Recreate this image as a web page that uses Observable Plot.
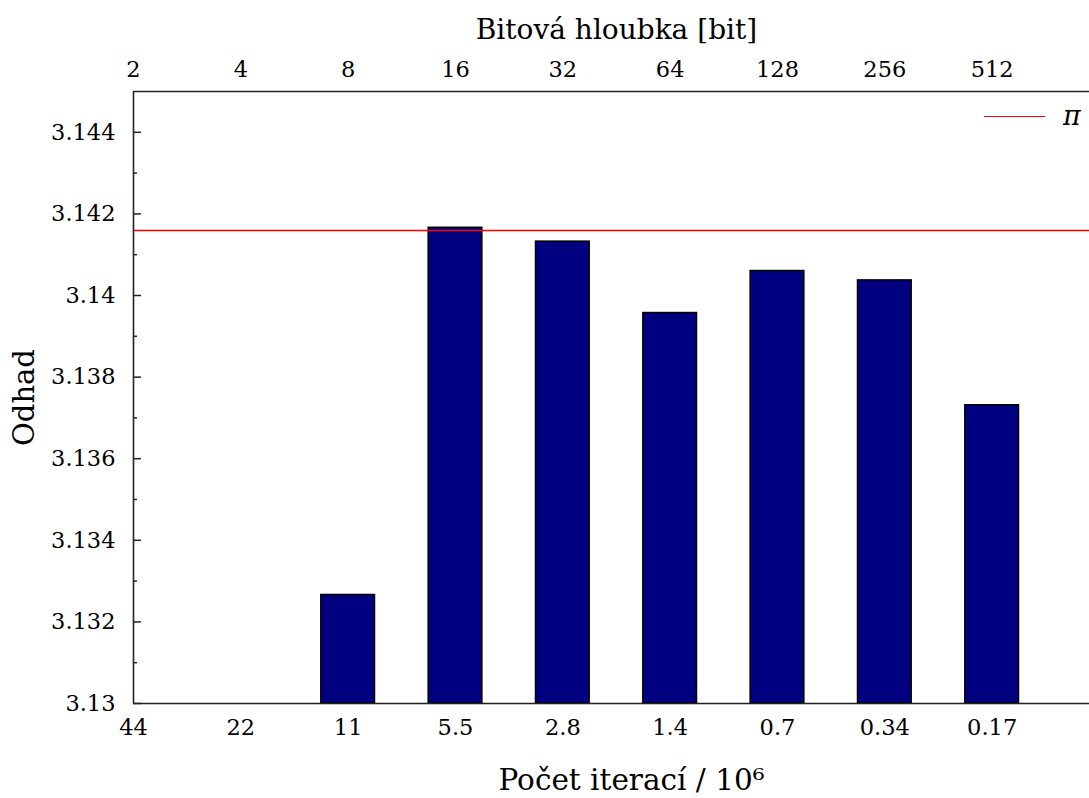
<!DOCTYPE html>
<html><head><meta charset="utf-8">
<script src="https://cdn.jsdelivr.net/npm/d3@7"></script>
<script src="https://cdn.jsdelivr.net/npm/@observablehq/plot@0.6"></script>
<style>
html,body{margin:0;padding:0;background:#fff;overflow:hidden;}
#wrap{position:relative;width:1089px;height:798px;overflow:hidden;}
#legend{position:absolute;left:984px;top:99px;font-family:"DejaVu Serif";font-size:27px;font-style:italic;display:flex;align-items:center;line-height:34px;}
#legend .sw{width:61px;height:0;border-top:1.5px solid #ff0000;margin-right:18px;}
</style></head><body><div id="wrap"><div id="legend"><span class="sw"></span><span>π</span></div></div>
<script>
const bitDepth = [2, 4, 8, 16, 32, 64, 128, 256, 512];
const iterations = ["44", "22", "11", "5.5", "2.8", "1.4", "0.7", "0.34", "0.17"];
const estimate = [null, null, 3.13266, 3.14166, 3.14132, 3.13957, 3.1406, 3.14037, 3.13731];
const piValue = [Math.PI];
const yMajor = [3.13, 3.132, 3.134, 3.136, 3.138, 3.14, 3.142, 3.144];
const yMinor = [3.131, 3.133, 3.135, 3.137, 3.139, 3.141, 3.143];
const yDomain = [3.13, 3.145];
const xDomain = [0, 9];

const rows = bitDepth.map((b, i) => ({i, bits: b, iter: iterations[i], est: estimate[i]}));
const idx = rows.map(d => d.i);

const W = 1089, H = 798, mL = 133, mR = -10, mT = 91, mB = 95;
const plotW = W - mL - mR;
const font = "DejaVu Serif";

const chart = Plot.plot({
  width: W, height: H,
  marginLeft: mL, marginRight: mR, marginTop: mT, marginBottom: mB,
  style: {fontFamily: font, background: "#fff", overflow: "hidden"},
  x: {type: "linear", domain: xDomain},
  y: {type: "linear", domain: yDomain},
  marks: [
    Plot.rectY(rows.filter(d => d.est != null), {
      x1: d => d.i - 0.25, x2: d => d.i + 0.25, y1: yDomain[0], y2: "est",
      fill: "#000080", stroke: "#000", strokeWidth: 1.5
    }),
    Plot.ruleY(piValue, {stroke: "#ff0000", strokeWidth: 1.5}),
    Plot.ruleY(yDomain, {stroke: "#222", strokeWidth: 1.6}),
    Plot.ruleX([xDomain[0]], {stroke: "#222", strokeWidth: 1.6}),
    Plot.tickY(yMajor, {insetRight: plotW - 8, stroke: "#222", strokeWidth: 1.5}),
    Plot.tickY(yMinor, {insetRight: plotW - 4, stroke: "#222", strokeWidth: 1.5}),
    Plot.axisY({ticks: yMajor, tickSize: 0, tickPadding: 18, label: null, fontSize: 22.5, fontFamily: font,
      tickFormat: d => String(+d.toFixed(3))}),
    Plot.axisX({anchor: "bottom", ticks: idx, tickSize: 0, tickPadding: 16, label: null, fontSize: 22.5, fontFamily: font,
      tickFormat: i => iterations[i]}),
    Plot.axisX({anchor: "top", ticks: idx, tickSize: 0, tickPadding: 15, label: null, fontSize: 22.5, fontFamily: font,
      tickFormat: i => String(bitDepth[i])}),
    Plot.text(["Bitová hloubka [bit]"], {text: d => d, frameAnchor: "top", dy: -53, lineAnchor: "bottom", fontSize: 28, fontFamily: font}),
    Plot.text(["Počet iterací / 10⁶"], {text: d => d, frameAnchor: "bottom", dx: 15, dy: 86, lineAnchor: "bottom", fontSize: 29.5, fontFamily: font}),
    Plot.text(["Odhad"], {text: d => d, frameAnchor: "left", rotate: -90, dx: -100, textAnchor: "middle", lineAnchor: "bottom", fontSize: 29, fontFamily: font})
  ]
});
document.getElementById("wrap").prepend(chart);
</script>
</body></html>
